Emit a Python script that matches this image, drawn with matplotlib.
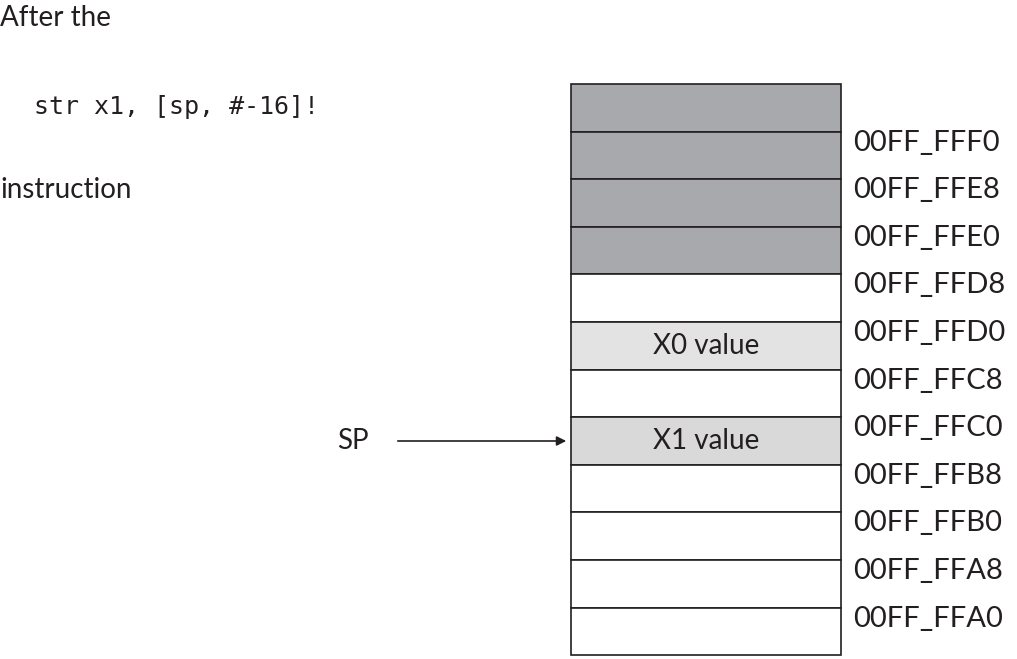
import matplotlib
matplotlib.use("Agg")
import matplotlib.pyplot as plt
from matplotlib.patches import Rectangle

addresses = ["00FF_FFF0", "00FF_FFE8", "00FF_FFE0", "00FF_FFD8", "00FF_FFD0", "00FF_FFC8",
             "00FF_FFC0", "00FF_FFB8", "00FF_FFB0", "00FF_FFA8", "00FF_FFA0"]
row_labels = ["", "", "", "", "", "X0 value", "", "X1 value", "", "", "", ""]
row_colors = ["#a7a9ac"] * 4 + ["white", "#e3e3e3", "white", "#d9d9da"] + ["white"] * 4

W, H = 1017, 659
fig = plt.figure(figsize=(W / 100, H / 100), dpi=100)
ax = fig.add_axes([0, 0, 1, 1])
ax.set_xlim(0, W)
ax.set_ylim(H, 0)
ax.axis("off")

x0, x1 = 571, 841
top, rh = 84, 47.6
font = "Lato"

for i, (lab, col) in enumerate(zip(row_labels, row_colors)):
    y = top + i * rh
    ax.add_patch(Rectangle((x0, y), x1 - x0, rh, facecolor=col, edgecolor="#231f20", lw=1.2))
    if lab:
        ax.text((x0 + x1) / 2, y + rh / 2, lab, ha="center", va="center",
                fontsize=20, family=font, color="#231f20")

for i, a in enumerate(addresses):
    y = top + (i + 1) * rh + 11
    ax.text(853, y, a, ha="left", va="center", fontsize=21, family=font, color="#231f20")

ax.text(0, 18, "After the", ha="left", va="center", fontsize=20, family=font, color="#231f20")
ax.text(34, 107, "str x1, [sp, #-16]!", ha="left", va="center", fontsize=18,
        family="DejaVu Sans Mono", color="#231f20")
ax.text(0, 190, "instruction", ha="left", va="center", fontsize=20, family=font, color="#231f20")

sp_y = top + 7 * rh + rh / 2
ax.text(337, sp_y, "SP", ha="left", va="center", fontsize=20, family=font, color="#231f20")
ax.annotate("", xy=(569, sp_y), xytext=(395, sp_y),
            arrowprops=dict(arrowstyle="-|>", color="#231f20", lw=1.2, mutation_scale=14))

fig.savefig("out.png", dpi=100)
